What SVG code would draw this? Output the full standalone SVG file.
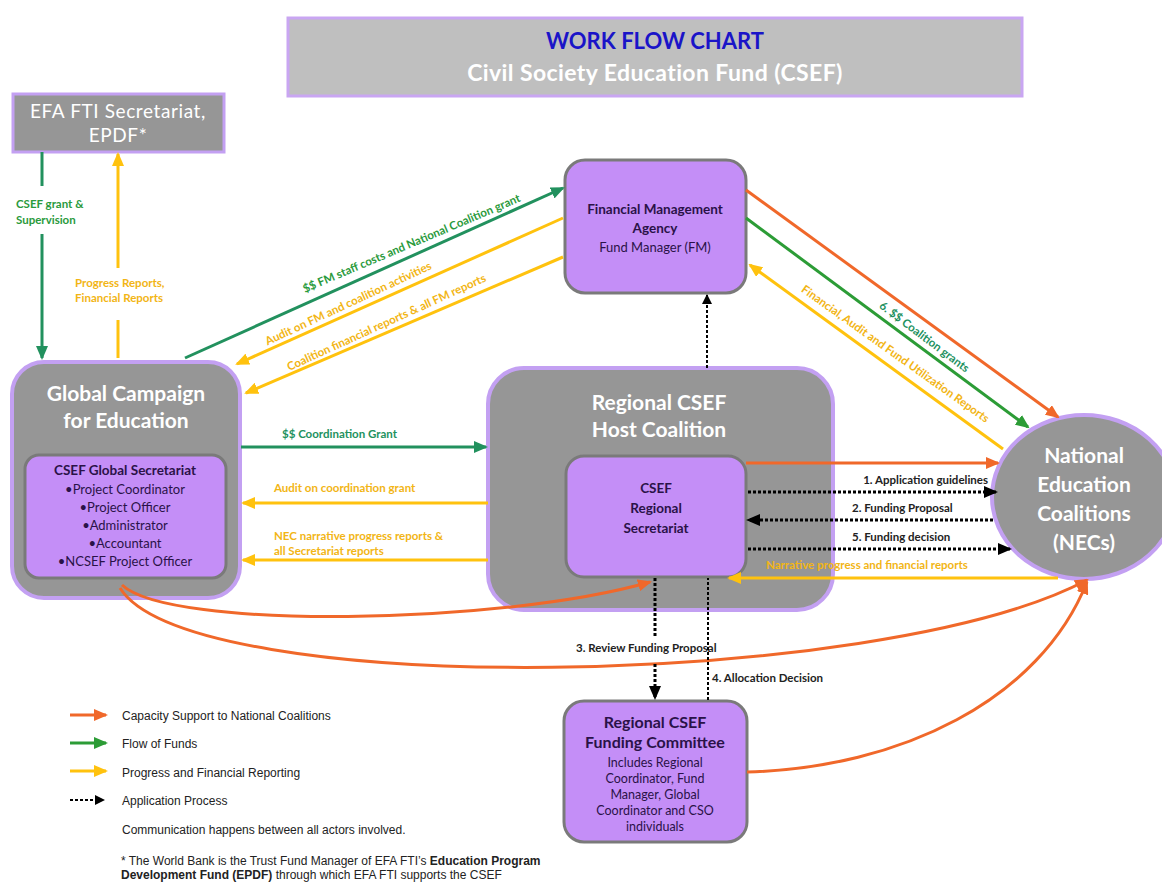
<svg xmlns="http://www.w3.org/2000/svg" width="1162" height="884" viewBox="0 0 1162 884">
<defs>
<style>
text{font-family:Lato,"Open Sans","Liberation Sans",sans-serif}
.gbox{fill:#969696;stroke:#c3a0f2;stroke-width:4}
.pbox{fill:#c48ef7;stroke:#7a7a7a;stroke-width:3}
.wt{fill:#ffffff;text-anchor:middle}
.dk{fill:#2a1248;text-anchor:middle}
.or{fill:none;stroke:#f0682a;stroke-width:3}
.gr{fill:none;stroke:#22915e;stroke-width:3}
.gr2{fill:none;stroke:#2c9c36;stroke-width:3}
.ye{fill:none;stroke:#ffc20e;stroke-width:3}
.dot{fill:none;stroke:#000;stroke-width:3;stroke-dasharray:3 2}
.dash{fill:none;stroke:#000;stroke-width:2;stroke-dasharray:3 2}
.lg{font-size:11.5px;font-weight:bold}
.lgr{fill:#2a9a3c}
.lye{fill:#f2b515}
.lbk{fill:#222}
.leg{font-family:"Liberation Sans",Arial,sans-serif;font-size:12px;fill:#222}
</style>
<marker id="aO" markerWidth="14" markerHeight="12" refX="12" refY="6" orient="auto" markerUnits="userSpaceOnUse"><path d="M0,0 L14,6 L0,12 z" fill="#f0682a"/></marker>
<marker id="aG" markerWidth="14" markerHeight="12" refX="12" refY="6" orient="auto" markerUnits="userSpaceOnUse"><path d="M0,0 L14,6 L0,12 z" fill="#22915e"/></marker>
<marker id="aG2" markerWidth="14" markerHeight="12" refX="12" refY="6" orient="auto" markerUnits="userSpaceOnUse"><path d="M0,0 L14,6 L0,12 z" fill="#2c9c36"/></marker>
<marker id="aY" markerWidth="14" markerHeight="12" refX="12" refY="6" orient="auto" markerUnits="userSpaceOnUse"><path d="M0,0 L14,6 L0,12 z" fill="#ffc20e"/></marker>
<marker id="aK" markerWidth="14" markerHeight="12" refX="12" refY="6" orient="auto" markerUnits="userSpaceOnUse"><path d="M0,0 L14,6 L0,12 z" fill="#000"/></marker>
<marker id="aKs" markerWidth="10" markerHeight="10" refX="9" refY="5" orient="auto" markerUnits="userSpaceOnUse"><path d="M0,0 L10,5 L0,10 z" fill="#000"/></marker>
</defs>
<rect width="1162" height="884" fill="#fff"/>

<g id="title">
<rect x="288" y="18" width="734" height="78" fill="#bfbfbf" stroke="#c9a6f2" stroke-width="3"/>
<text x="655" y="49" font-size="22" font-weight="bold" fill="#1a14c8" text-anchor="middle">WORK FLOW CHART</text>
<text x="655" y="81" font-size="23" font-weight="bold" fill="#ffffff" text-anchor="middle" letter-spacing="0.4">Civil Society Education Fund (CSEF)</text>
</g>

<g id="efa">
<rect x="13" y="94" width="211" height="58" fill="#969696" stroke="#c3a0f2" stroke-width="3"/>
<text class="wt" x="118" y="118" font-size="19" letter-spacing="0.6">EFA FTI Secretariat,</text>
<text class="wt" x="118" y="142" font-size="19" letter-spacing="0.6">EPDF*</text>
</g>

<g id="gce">
<rect class="gbox" x="12" y="362" width="228" height="236" rx="32"/>
<text class="wt" x="126" y="401" font-size="21" font-weight="bold">Global Campaign</text>
<text class="wt" x="126" y="428" font-size="21" font-weight="bold">for Education</text>
<rect class="pbox" x="25" y="455" width="201" height="123" rx="14"/>
<text class="dk" x="125" y="475" font-size="13.5" font-weight="bold">CSEF Global Secretariat</text>
<text class="dk" x="125" y="494" font-size="13">•Project Coordinator</text>
<text class="dk" x="125" y="512" font-size="13">•Project Officer</text>
<text class="dk" x="125" y="530" font-size="13">•Administrator</text>
<text class="dk" x="125" y="548" font-size="13">•Accountant</text>
<text class="dk" x="125" y="566" font-size="13">•NCSEF Project Officer</text>
</g>

<g id="fma">
<rect class="pbox" x="565" y="160" width="181" height="133" rx="20"/>
<text class="dk" x="655" y="214" font-size="13.5" font-weight="bold">Financial Management</text>
<text class="dk" x="655" y="233" font-size="13.5" font-weight="bold">Agency</text>
<text class="dk" x="655" y="252" font-size="13">Fund Manager (FM)</text>
</g>

<g id="host">
<rect class="gbox" x="488" y="368" width="345" height="242" rx="36"/>
<text class="wt" x="659" y="410" font-size="21" font-weight="bold">Regional CSEF</text>
<text class="wt" x="659" y="437" font-size="21" font-weight="bold">Host Coalition</text>
<rect class="pbox" x="566" y="456" width="180" height="121" rx="18"/>
<text class="dk" x="656" y="493" font-size="13.5" font-weight="bold">CSEF</text>
<text class="dk" x="656" y="513" font-size="13.5" font-weight="bold">Regional</text>
<text class="dk" x="656" y="533" font-size="13.5" font-weight="bold">Secretariat</text>
</g>

<g id="nec">
<ellipse cx="1084" cy="497" rx="92" ry="82" fill="#969696" stroke="#c3a0f2" stroke-width="4"/>
<text class="wt" x="1084" y="463" font-size="21" font-weight="bold">National</text>
<text class="wt" x="1084" y="492" font-size="21" font-weight="bold">Education</text>
<text class="wt" x="1084" y="521" font-size="21" font-weight="bold">Coalitions</text>
<text class="wt" x="1084" y="550" font-size="21" font-weight="bold">(NECs)</text>
</g>

<g id="committee">
<rect class="pbox" x="564" y="701" width="183" height="141" rx="20"/>
<text class="dk" x="655" y="728" font-size="16" font-weight="bold">Regional CSEF</text>
<text class="dk" x="655" y="748" font-size="16" font-weight="bold">Funding Committee</text>
<text class="dk" x="655" y="767" font-size="12.5">Includes Regional</text>
<text class="dk" x="655" y="783" font-size="12.5">Coordinator, Fund</text>
<text class="dk" x="655" y="799" font-size="12.5">Manager, Global</text>
<text class="dk" x="655" y="815" font-size="12.5">Coordinator and CSO</text>
<text class="dk" x="655" y="831" font-size="12.5">individuals</text>
</g>

<g id="connectors">
<path class="gr" d="M42,152 V186 M42,234 V358" marker-end="url(#aG)"/>
<text class="lg lgr" x="16" y="208">CSEF grant &amp;</text>
<text class="lg lgr" x="16" y="224">Supervision</text>
<path class="ye" d="M118,358 V320" />
<path class="ye" d="M118,268 V154" marker-end="url(#aY)"/>
<text class="lg lye" x="75" y="287">Progress Reports,</text>
<text class="lg lye" x="75" y="302">Financial Reports</text>

<path class="gr" d="M185,358 L563,188" marker-end="url(#aG)"/>
<text class="lg lgr" transform="translate(413,247) rotate(-23)" text-anchor="middle">$$ FM staff costs and National Coalition grant</text>
<path class="ye" d="M563,218 L237,364" marker-end="url(#aY)"/>
<text class="lg lye" transform="translate(350,307) rotate(-25)" text-anchor="middle">Audit on FM and coalition activities</text>
<path class="ye" d="M563,257 L246,393" marker-end="url(#aY)"/>
<text class="lg lye" transform="translate(388,326) rotate(-24.5)" text-anchor="middle">Coalition financial reports &amp; all FM reports</text>

<path class="or" d="M746,190 L1058,417" marker-end="url(#aO)"/>
<path class="gr2" d="M746,218 L1028,427" marker-end="url(#aG2)"/>
<text class="lg" fill="#22915e" transform="translate(922,340) rotate(37)" text-anchor="middle">6. $$ Coalition grants</text>
<path class="ye" d="M1003,449 L750,265" marker-end="url(#aY)"/>
<text class="lg lye" transform="translate(893,357) rotate(35.5)" text-anchor="middle">Financial, Audit  and Fund Utilization Reports</text>

<path class="dash" d="M707,368 V295" marker-end="url(#aKs)"/>

<path class="gr" d="M241,447 H486" marker-end="url(#aG)"/>
<text class="lg" fill="#22915e" x="282" y="438">$$ Coordination Grant</text>
<path class="ye" d="M488,503 H243" marker-end="url(#aY)"/>
<text class="lg lye" x="274" y="492">Audit on coordination grant</text>
<path class="ye" d="M488,560 H243" marker-end="url(#aY)"/>
<text class="lg lye" x="274" y="540">NEC narrative progress reports &amp;</text>
<text class="lg lye" x="274" y="555">all Secretariat reports</text>

<path class="or" d="M746,463 H998" marker-end="url(#aO)"/>
<path class="dot" d="M748,492 H996" marker-end="url(#aK)"/>
<text class="lg lbk" x="988" y="484" text-anchor="end">1. Application guidelines</text>
<path class="dot" d="M993,520 H748" marker-end="url(#aK)"/>
<text class="lg lbk" x="852" y="512">2. Funding Proposal</text>
<path class="dot" d="M748,549 H1010" marker-end="url(#aK)"/>
<text class="lg lbk" x="852" y="541">5. Funding decision</text>
<path class="ye" d="M1058,578 H729" marker-end="url(#aY)"/>
<text class="lg lye" x="766" y="569">Narrative progress and financial reports</text>

<path class="or" d="M122,585 C170,630 500,625 650,582" marker-end="url(#aO)"/>
<path class="or" d="M120,588 C190,700 880,690 1087,580" marker-end="url(#aO)"/>
<path class="or" d="M747,772 C900,768 1040,700 1087,582" marker-end="url(#aO)"/>

<path class="dot" d="M655,578 V636" />
<text class="lg lbk" x="576" y="652">3. Review Funding Proposal</text>
<path class="dot" d="M655,664 V698" marker-end="url(#aK)"/>
<path class="dash" d="M708,700 V578" />
<text class="lg lbk" x="712" y="682">4. Allocation Decision</text>

<g id="legend">
<path class="or" d="M70,715 H106" marker-end="url(#aO)" stroke-width="2.5"/>
<text class="leg" x="122" y="720">Capacity Support to National Coalitions</text>
<path class="gr2" d="M70,743 H106" marker-end="url(#aG2)" stroke-width="2.5"/>
<text class="leg" x="122" y="748">Flow of Funds</text>
<path class="ye" d="M70,771 H106" marker-end="url(#aY)" stroke-width="2.5"/>
<text class="leg" x="122" y="777">Progress and Financial Reporting</text>
<path class="dash" d="M70,800 H104" marker-end="url(#aKs)"/>
<text class="leg" x="122" y="805">Application Process</text>
<text class="leg" x="122" y="834">Communication happens between all actors involved.</text>
<text class="leg" x="121" y="865" font-size="11.5">* The World Bank is the Trust Fund Manager of EFA FTI’s <tspan font-weight="bold">Education Program</tspan></text>
<text class="leg" x="121" y="879" font-size="11.5"><tspan font-weight="bold">Development Fund (EPDF)</tspan> through which EFA FTI supports the CSEF</text>
</g>
</g>
</svg>
